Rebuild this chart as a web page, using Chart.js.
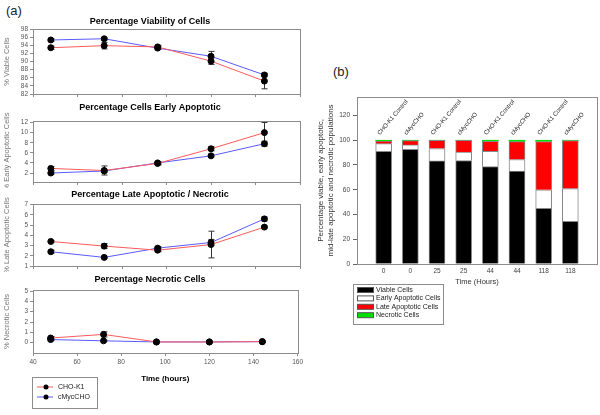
<!DOCTYPE html>
<html>
<head>
<meta charset="utf-8">
<script src="https://cdn.jsdelivr.net/npm/chart.js@4"></script>
<style>
  body { margin: 0; background: #fff; width: 600px; height: 415px; position: relative; overflow: hidden; font-family: 'Liberation Sans', Arial, sans-serif; }
  canvas { position: absolute; }
  .tag { position: absolute; font-size: 13px; color: #222; line-height: 15px; }
</style>
</head>
<body>
<div class="tag" style="left:6px;top:3px">(a)</div>
<div class="tag" style="left:333px;top:64px">(b)</div>
<canvas id="p1" width="305" height="84" style="left:0;top:16px"></canvas>
<canvas id="p2" width="305" height="86" style="left:0;top:102px"></canvas>
<canvas id="p3" width="305" height="83" style="left:0;top:189px"></canvas>
<canvas id="p4" width="305" height="141" style="left:0;top:274px"></canvas>
<canvas id="bars" width="300" height="245" style="left:300px;top:90px"></canvas>
<script>
// (a) time course, hours after seeding
var hours = [48, 72, 96, 120, 144];
var hourTicks = [40, 60, 80, 100, 120, 140, 160];
var viableK1 = [93.4, 93.9, 93.6, 90.1, 85.2];
var viableK1Err = [0.4, 0.8, 0.4, 0.8, 1.9];
var viableMyc = [95.3, 95.6, 93.3, 91.3, 86.7];
var viableMycErr = [0.3, 0.3, 0.3, 1.2, 0.4];
var viableTicks = [82, 84, 86, 88, 90, 92, 94, 96, 98];
var earlyK1 = [2.9, 2.5, 3.9, 6.8, 10.0];
var earlyK1Err = [0.4, 0.9, 0.3, 0.4, 2.0];
var earlyMyc = [2.0, 2.4, 4.0, 5.4, 7.8];
var earlyMycErr = [0.2, 0.3, 0.2, 0.2, 0.5];
var earlyTicks = [2, 4, 6, 8, 10, 12];
var lateK1 = [3.4, 2.95, 2.55, 3.1, 4.8];
var lateK1Err = [0.1, 0.25, 0.15, 1.3, 0.1];
var lateMyc = [2.4, 1.85, 2.75, 3.3, 5.6];
var lateMycErr = [0.15, 0.1, 0.15, 0.3, 0.2];
var lateTicks = [1, 2, 3, 4, 5, 6, 7];
var necK1 = [0.45, 0.8, 0.07, 0.07, 0.1];
var necK1Err = [0.15, 0.25, 0.03, 0.03, 0.03];
var necMyc = [0.3, 0.18, 0.07, 0.07, 0.1];
var necMycErr = [0.1, 0.05, 0.03, 0.03, 0.03];
var necTicks = [0, 1, 2, 3, 4, 5];

// (b) population breakdown per sample
var barTimes = ['0', '0', '25', '25', '44', '44', '118', '118'];
var barGroups = ['CHO-K1 Control', 'cMycCHO', 'CHO-K1 Control', 'cMycCHO', 'CHO-K1 Control', 'cMycCHO', 'CHO-K1 Control', 'cMycCHO'];
var viable = [91.0, 92.7, 83.3, 83.6, 78.8, 75.0, 44.9, 34.4];
var earlyApop = [6.2, 3.5, 10.0, 6.9, 12.3, 9.4, 15.1, 26.5];
var lateApop = [2.2, 3.5, 6.6, 9.4, 8.1, 14.5, 39.0, 38.9];
var necrotic = [0.6, 0.3, 0.1, 0.1, 0.8, 1.1, 1.0, 0.2];
var percentTicks = [0, 20, 40, 60, 80, 100, 120];

var FONT = "'Liberation Sans', Arial, sans-serif";
Chart.defaults.font.family = FONT;
Chart.defaults.color = '#555';

var framePlugin = {
  id: 'frame',
  afterDraw: function(chart) {
    var a = chart.chartArea, ctx = chart.ctx;
    ctx.save();
    ctx.strokeStyle = '#8c8c8c';
    ctx.lineWidth = 1;
    ctx.strokeRect(Math.round(a.left) + 0.5, Math.round(a.top) + 0.5, Math.round(a.right - a.left), Math.round(a.bottom - a.top));
    ctx.restore();
  }
};

var errorBars = {
  id: 'errorBars',
  beforeDatasetsDraw: function(chart) {
    var ctx = chart.ctx, ys = chart.scales.y;
    ctx.save();
    ctx.strokeStyle = '#333';
    ctx.lineWidth = 1;
    chart.data.datasets.forEach(function(ds, i) {
      chart.getDatasetMeta(i).data.forEach(function(pt, j) {
        var e = ds.errors[j], v = ds.data[j].y;
        var t = ys.getPixelForValue(v + e), b = ys.getPixelForValue(v - e);
        var x = Math.round(pt.x) + 0.5;
        ctx.beginPath();
        ctx.moveTo(x, t); ctx.lineTo(x, b);
        ctx.moveTo(x - 3, t); ctx.lineTo(x + 3, t);
        ctx.moveTo(x - 3, b); ctx.lineTo(x + 3, b);
        ctx.stroke();
      });
    });
    ctx.restore();
  }
};

// legend drawn as a boxed column, like the original figure
var boxLegend = {
  id: 'boxLegend',
  afterDraw: function(chart, args, o) {
    if (!o || !o.width) return;
    var ctx = chart.ctx;
    ctx.save();
    ctx.strokeStyle = '#8c8c8c';
    ctx.lineWidth = 1;
    ctx.strokeRect(o.left + 0.5, o.top + 0.5, o.width, o.height);
    ctx.font = '7px ' + FONT;
    ctx.textBaseline = 'middle';
    chart.data.datasets.forEach(function(ds, i) {
      var y = o.top + o.first + i * o.row;
      if (o.symbol === 'line') {
        ctx.strokeStyle = ds.borderColor;
        ctx.beginPath();
        ctx.moveTo(o.left + 5, y); ctx.lineTo(o.left + 21, y);
        ctx.stroke();
        ctx.fillStyle = '#000';
        ctx.beginPath();
        ctx.arc(o.left + 14, y, 2.5, 0, Math.PI * 2);
        ctx.fill();
      } else {
        ctx.fillStyle = ds.backgroundColor;
        ctx.fillRect(o.left + 4, y - 2.5, 16, 5);
        ctx.strokeStyle = '#555';
        ctx.strokeRect(o.left + 4.5, y - 2.5, 16, 5);
      }
      ctx.fillStyle = '#222';
      ctx.fillText(ds.label, o.left + o.textX, y);
    });
    ctx.restore();
  }
};

function xy(vals) {
  return hours.map(function(h, i) { return { x: h, y: vals[i] }; });
}

function useTicks(values) {
  return function(s) { s.ticks = values.map(function(v) { return { value: v }; }); };
}

function makePanel(id, title, yTitle, k1, k1Err, myc, mycErr, yMin, yMax, yTicks, titlePad, isLast) {
  new Chart(document.getElementById(id), {
    type: 'line',
    data: {
      datasets: [
        { label: 'CHO-K1', data: xy(k1), errors: k1Err, borderColor: '#ff5a5a', borderWidth: 1,
          pointRadius: 3, pointBackgroundColor: '#000', pointBorderColor: '#000', tension: 0 },
        { label: 'cMycCHO', data: xy(myc), errors: mycErr, borderColor: '#5a5aff', borderWidth: 1,
          pointRadius: 3, pointBackgroundColor: '#000', pointBorderColor: '#000', tension: 0 }
      ]
    },
    options: {
      responsive: false,
      animation: false,
      layout: { padding: { left: 0, right: 5, top: 0, bottom: isLast ? 30 : 0 } },
      plugins: {
        legend: { display: false },
        tooltip: { enabled: false },
        title: { display: true, text: title, color: '#000', font: { size: 9, weight: 'bold' }, padding: { top: 0, bottom: titlePad } },
        boxLegend: isLast ? { left: 32, top: 103, width: 65, height: 31, first: 10, row: 10, textX: 26, symbol: 'line' } : {}
      },
      scales: {
        x: {
          type: 'linear', min: 40, max: 160,
          afterBuildTicks: useTicks(hourTicks),
          afterFit: function(s) { s.height = isLast ? 32 : 5; },
          ticks: { display: isLast, autoSkip: false, maxRotation: 0, padding: 2, font: { size: 6.5 }, color: '#555' },
          grid: { drawOnChartArea: false, tickLength: 3, color: '#8c8c8c' },
          border: { color: '#8c8c8c' },
          title: { display: isLast, text: 'Time (hours)', color: '#000', font: { size: 8, weight: 'bold' }, padding: { top: 0, bottom: 1 } }
        },
        y: {
          min: yMin, max: yMax,
          afterBuildTicks: useTicks(yTicks),
          afterFit: function(s) { s.width = 33; },
          ticks: { autoSkip: false, padding: 2, font: { size: 6.5 }, color: '#555' },
          grid: { drawOnChartArea: false, tickLength: 3, color: '#8c8c8c' },
          border: { color: '#8c8c8c' },
          title: { display: true, text: yTitle, color: '#777', font: { size: 7.5 }, padding: { top: 2, bottom: 0 } }
        }
      }
    },
    plugins: [framePlugin, errorBars, boxLegend]
  });
}

makePanel('p1', 'Percentage Viability of Cells', '% Viable Cells', viableK1, viableK1Err, viableMyc, viableMycErr,
  82, 98, viableTicks, 2.2, false);
makePanel('p2', 'Percentage Cells Early Apoptotic', '% Early Apoptotic Cells', earlyK1, earlyK1Err, earlyMyc, earlyMycErr,
  0.2, 12.3, earlyTicks, 8.2, false);
makePanel('p3', 'Percentage Late Apoptotic / Necrotic', '% Late Apoptotic Cells', lateK1, lateK1Err, lateMyc, lateMycErr,
  1, 7.05, lateTicks, 4.2, false);
makePanel('p4', 'Percentage Necrotic Cells', '% Necrotic Cells', necK1, necK1Err, necMyc, necMycErr,
  -1, 5.1, necTicks, 5.2, true);

// sample names written diagonally above each bar
var groupLabels = {
  id: 'groupLabels',
  afterDatasetsDraw: function(chart) {
    var ctx = chart.ctx;
    var meta = chart.getDatasetMeta(chart.data.datasets.length - 1);
    ctx.save();
    ctx.font = '6px ' + FONT;
    ctx.fillStyle = '#222';
    ctx.textBaseline = 'middle';
    barGroups.forEach(function(name, i) {
      var bar = meta.data[i + 1];
      ctx.save();
      ctx.translate(bar.x - 5, bar.y - 6);
      ctx.rotate(-50 * Math.PI / 180);
      ctx.fillText(name, 0, 0);
      ctx.restore();
    });
    ctx.restore();
  }
};

function pad(arr, v) { return [v].concat(arr, [v]); }

new Chart(document.getElementById('bars'), {
  type: 'bar',
  data: {
    labels: pad(barTimes, ''),
    datasets: [
      { label: 'Viable Cells', data: pad(viable, null), backgroundColor: '#000000', borderColor: '#888', borderWidth: 1 },
      { label: 'Early Apoptotic Cells', data: pad(earlyApop, null), backgroundColor: '#ffffff', borderColor: '#888', borderWidth: 1 },
      { label: 'Late Apoptotic Cells', data: pad(lateApop, null), backgroundColor: '#ff0000', borderColor: '#888', borderWidth: 1 },
      { label: 'Necrotic Cells', data: pad(necrotic, null), backgroundColor: '#00e000', borderColor: '#888', borderWidth: 0 }
    ]
  },
  options: {
    responsive: false,
    animation: false,
    barThickness: 16,
    layout: { padding: { left: 0, right: 3, top: 6, bottom: 45 } },
    plugins: {
      legend: { display: false },
      tooltip: { enabled: false },
      boxLegend: { left: 53, top: 194, width: 90, height: 40, first: 6, row: 8.4, textX: 23, symbol: 'box' }
    },
    scales: {
      x: {
        stacked: true,
        offset: false,
        afterFit: function(s) { s.height = 26; },
        ticks: { autoSkip: false, maxRotation: 0, padding: 3, font: { size: 6.5 }, color: '#444' },
        grid: { display: false, drawTicks: false },
        border: { display: false },
        title: { display: true, text: 'Time (Hours)', color: '#333', font: { size: 7.5 }, padding: { top: 0, bottom: 4 } }
      },
      y: {
        stacked: true,
        min: 0, max: 135,
        afterBuildTicks: useTicks(percentTicks),
        afterFit: function(s) { s.width = 57; },
        ticks: { autoSkip: false, padding: 3, font: { size: 6.5 }, color: '#444' },
        grid: { drawOnChartArea: false, tickLength: 4, color: '#666' },
        border: { display: false },
        title: { display: true, text: ['Percentage viable, early apoptotic,', 'mid-late apoptotic and necrotic populations'],
          color: '#333', font: { size: 8 }, padding: { top: 16, bottom: 0 } }
      }
    }
  },
  plugins: [framePlugin, groupLabels, boxLegend]
});
</script>
</body>
</html>
